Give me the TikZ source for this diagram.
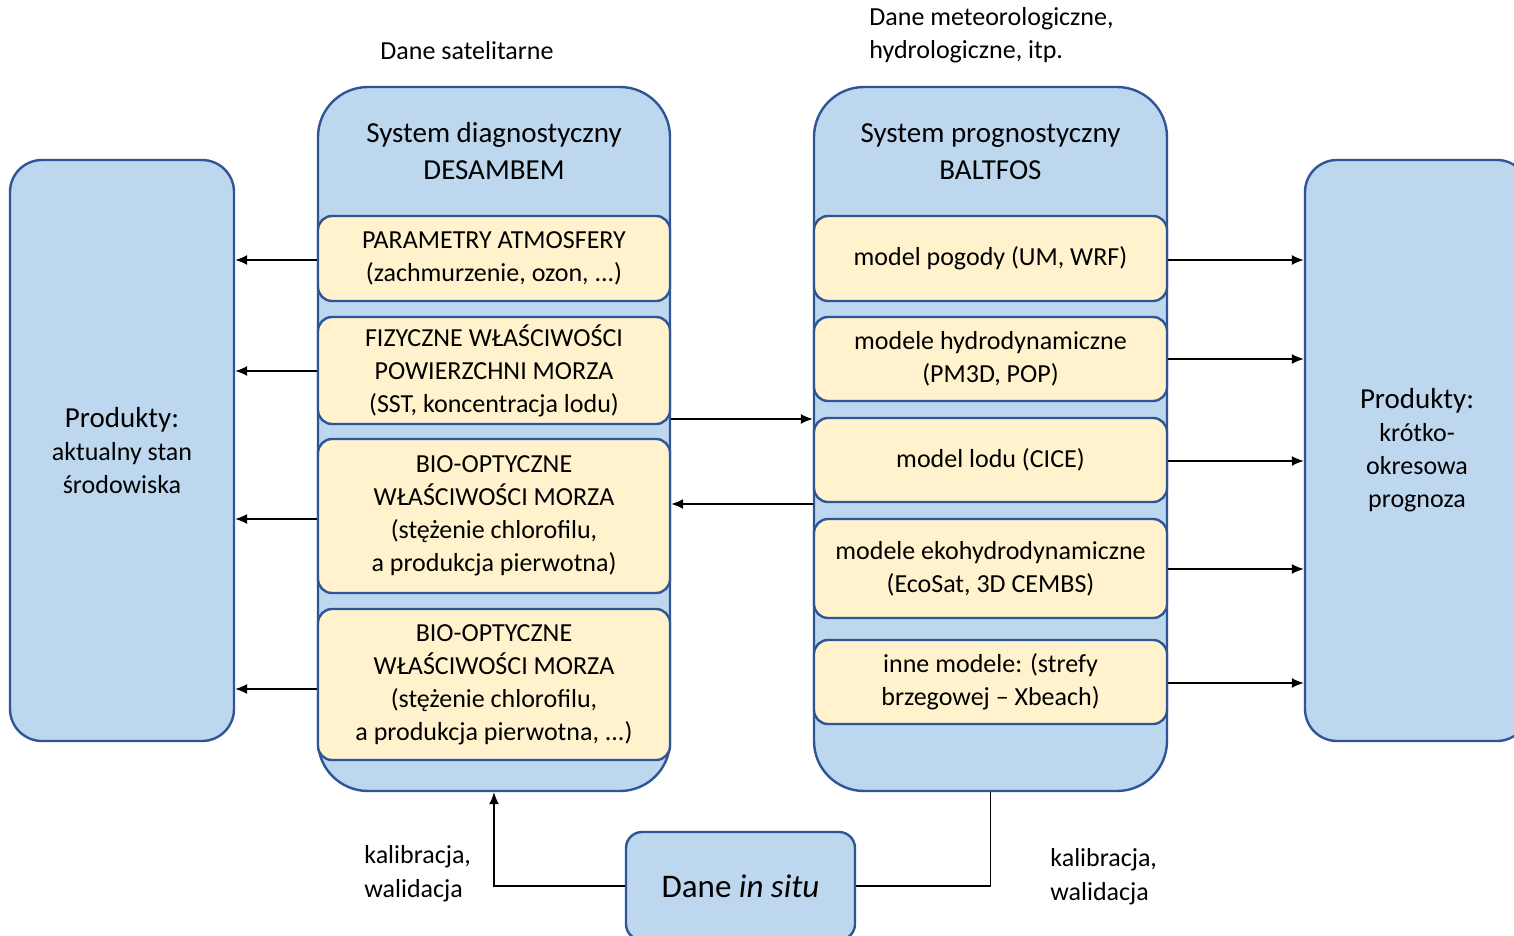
\documentclass[tikz,border=0pt]{standalone}
\usepackage{fontspec}
\setmainfont{Carlito}
\usetikzlibrary{arrows.meta}
\definecolor{boxblue}{HTML}{BDD7EE}
\definecolor{edgeblue}{HTML}{2F5597}
\definecolor{cream}{HTML}{FFF2CC}
\begin{document}
\begin{tikzpicture}[x=0.5pt,y=-0.5pt,
  panel/.style={draw=edgeblue, fill=boxblue, line width=1.2pt, inner sep=0pt, align=center,
    font=\fontsize{13}{16.5}\selectfont},
  item/.style={draw=edgeblue, fill=cream, line width=1.2pt, rounded corners=7pt,
    inner sep=0pt, align=center, font=\fontsize{13}{16.5}\selectfont},
  label/.style={inner sep=0pt, font=\fontsize{13}{16.75}\selectfont},
  title/.style={inner sep=0pt, align=center, font=\fontsize{14.5}{18.5}\selectfont},
  arr/.style={-{Latex[length=6pt,width=5pt]}, line width=0.7pt},
  link/.style={line width=0.7pt},
]
\useasboundingbox (0,0) rectangle (1514,936);

% product panels on both sides
\node[panel, rounded corners=16pt, minimum width=112pt, minimum height=290.5pt] (prodL) at (122,450.5)
  {{\fontsize{14.5}{17.5}\selectfont Produkty:}\\aktualny stan\\środowiska};
\node[panel, rounded corners=16pt, minimum width=112pt, minimum height=290.5pt] (prodR) at (1417,450.5)
  {{\fontsize{14.5}{17.5}\selectfont Produkty:}\\krótko-\\okresowa\\prognoza};

% diagnostic system
\node[panel, rounded corners=25pt, minimum width=176pt, minimum height=352pt] (diag) at (494,439) {};
\node[title] (diagT) at (494,151.5) {System diagnostyczny\\DESAMBEM};
\node[item, minimum width=176pt, minimum height=42.5pt] (d1) at (494,258.5)
  {PARAMETRY ATMOSFERY\\(zachmurzenie, ozon, ...)};
\node[item, minimum width=176pt, minimum height=53.5pt] (d2) at (494,370.5)
  {FIZYCZNE WŁAŚCIWOŚCI\\POWIERZCHNI MORZA\\(SST, koncentracja lodu)};
\node[item, minimum width=176pt, minimum height=77pt] (d3) at (494,516)
  {BIO-OPTYCZNE\\WŁAŚCIWOŚCI MORZA\\(stężenie chlorofilu,\\a produkcja pierwotna)};
\node[item, minimum width=176pt, minimum height=75.5pt] (d4) at (494,684.5)
  {BIO-OPTYCZNE\\WŁAŚCIWOŚCI MORZA\\(stężenie chlorofilu,\\a produkcja pierwotna, ...)};

% forecasting system
\node[panel, rounded corners=25pt, minimum width=176.5pt, minimum height=352pt] (balt) at (990.5,439) {};
\node[title] (baltT) at (990.5,151.5) {System prognostyczny\\BALTFOS};
\node[item, minimum width=176.5pt, minimum height=42.5pt] (b1) at (990.5,258.5)
  {model pogody (UM, WRF)};
\node[item, minimum width=176.5pt, minimum height=42pt] (b2) at (990.5,359)
  {modele hydrodynamiczne\\(PM3D, POP)};
\node[item, minimum width=176.5pt, minimum height=42pt] (b3) at (990.5,460)
  {model lodu (CICE)};
\node[item, minimum width=176.5pt, minimum height=49.5pt] (b4) at (990.5,568.5)
  {modele ekohydrodynamiczne\\(EcoSat, 3D CEMBS)};
\node[item, minimum width=176.5pt, minimum height=42pt] (b5) at (990.5,682)
  {inne modele: (strefy\\brzegowej -- Xbeach)};

% in situ data
\node[panel, rounded corners=8pt, minimum width=114.5pt, minimum height=54pt,
  font=\fontsize{16.5}{20}\selectfont] (insitu) at (740.5,886) {Dane \textit{in situ}};

% free labels
\node[label] (sat) at (467,51) {Dane satelitarne};
\node[label, anchor=west, align=left] (meteo) at (869,35) {Dane meteorologiczne,\\hydrologiczne, itp.};
\node[label, anchor=west, align=left] (calL) at (364,873.5) {kalibracja,\\walidacja};
\node[label, anchor=west, align=left] (calR) at (1050,876.5) {kalibracja,\\walidacja};

% diagnostic results to current products
\foreach \n/\y in {d1/260,d2/371,d3/519,d4/689}
  \draw[arr] (\n.west |- 0,\y) -- (prodL.east |- 0,\y);
% forecast results to forecast products
\foreach \n/\y in {b1/260,b2/359,b3/461,b4/569,b5/683}
  \draw[arr] (\n.east |- 0,\y) -- (prodR.west |- 0,\y);

% exchange between the two systems
\coordinate (upper) at (0,419);
\coordinate (lower) at (0,504);
\draw[arr] (diag.east |- upper) -- (balt.west |- upper);
\draw[arr] (balt.west |- lower) -- (diag.east |- lower);

% calibration and validation links
\draw[arr] (insitu.west) -| (diag.south);
\draw[link] (insitu.east) -| (balt.south);
\end{tikzpicture}
\end{document}
